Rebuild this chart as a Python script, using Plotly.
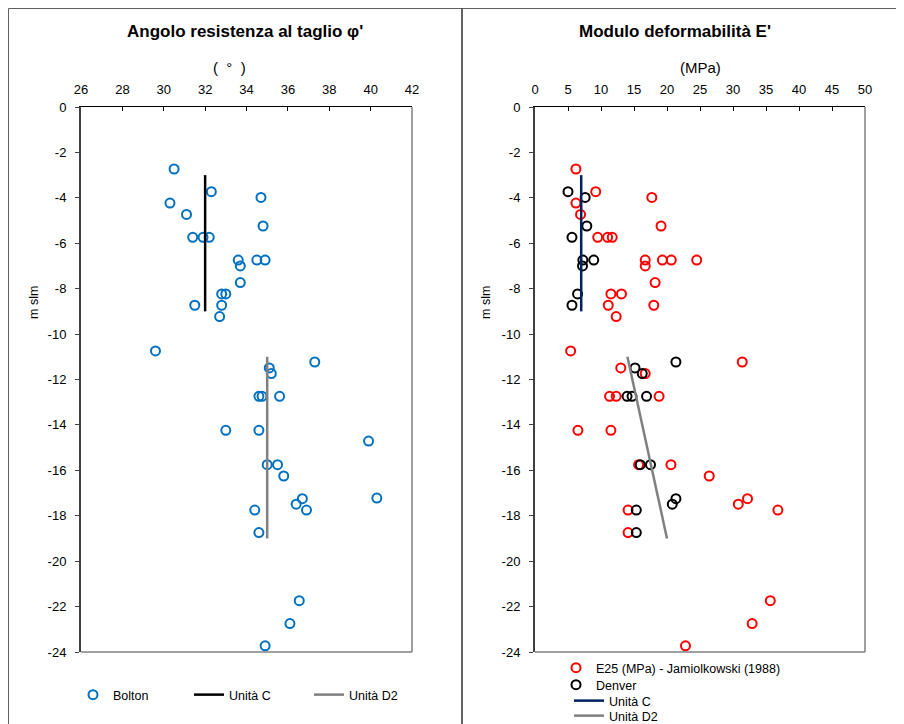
import plotly.graph_objects as go

# page body has an 8px margin; figure fills the rest of the 904x724 window
OFF = 8
W, H = 904 - OFF, 724 - OFF

# ---------------- data ----------------
# Left chart: friction angle (deg) vs elevation (m slm)
bolton_phi = [30.5, 32.3, 34.7, 30.3, 31.1, 34.8, 31.4, 31.9, 32.2, 33.6, 34.5, 34.9,
              33.7, 33.7, 32.8, 33.0, 31.5, 32.8, 32.7, 29.6, 37.3, 35.1, 35.2, 34.6,
              34.75, 35.6, 33.0, 34.6, 35.0, 35.5, 35.8, 36.7, 36.4, 36.9, 34.4, 34.6,
              36.55, 36.1, 34.9, 39.9, 40.3]
bolton_z = [-2.73, -3.73, -3.98, -4.23, -4.73, -5.24, -5.74, -5.74, -5.74, -6.74, -6.74, -6.74,
            -7.0, -7.73, -8.23, -8.23, -8.73, -8.73, -9.23, -10.74, -11.23, -11.49, -11.74, -12.74,
            -12.74, -12.74, -14.24, -14.24, -15.75, -15.75, -16.25, -17.25, -17.49, -17.75, -17.75, -18.74,
            -21.74, -22.75, -23.73, -14.71, -17.22]
unitaC_phi = [32, 32]
unitaC_phi_z = [-3, -9]
unitaD2_phi = [35, 35]
unitaD2_phi_z = [-11, -19]

# Right chart: deformation modulus (MPa) vs elevation
e25_val = [6.2, 9.2, 17.7, 6.2, 6.9, 19.1, 9.5, 11.0, 11.7, 16.7, 19.3, 20.65, 24.5, 16.7,
           18.2, 11.5, 13.1, 11.1, 18.0, 12.3, 5.4, 31.4, 13.0, 16.7, 11.3, 12.3, 18.8, 6.5,
           11.5, 15.7, 20.6, 26.4, 32.2, 30.8, 36.8, 14.1, 14.1, 35.65, 32.9, 22.8]
e25_z = [-2.73, -3.73, -3.98, -4.23, -4.73, -5.24, -5.74, -5.74, -5.74, -6.74, -6.74, -6.74, -6.74, -7.0,
         -7.73, -8.23, -8.23, -8.73, -8.73, -9.23, -10.74, -11.23, -11.49, -11.74, -12.74, -12.74, -12.74, -14.24,
         -14.24, -15.75, -15.75, -16.25, -17.25, -17.49, -17.75, -17.75, -18.74, -21.74, -22.75, -23.73]
denver_val = [5.0, 7.6, 7.85, 5.6, 7.25, 8.9, 7.2, 6.45, 5.6, 21.35, 15.15, 16.25, 13.95, 14.7,
              16.9, 15.95, 17.5, 21.35, 20.8, 15.35, 15.35]
denver_z = [-3.73, -3.98, -5.24, -5.74, -6.74, -6.74, -7.0, -8.23, -8.73, -11.23, -11.49, -11.74,
            -12.74, -12.74, -12.74, -15.75, -15.75, -17.25, -17.49, -17.75, -18.74]
unitaC_E = [7, 7]
unitaC_E_z = [-3, -9]
unitaD2_E = [14, 20]
unitaD2_E_z = [-11, -19]

# axis ticks
phi_ticks = [26, 28, 30, 32, 34, 36, 38, 40, 42]
e_ticks = [0, 5, 10, 15, 20, 25, 30, 35, 40, 45, 50]
z_ticks = [0, -2, -4, -6, -8, -10, -12, -14, -16, -18, -20, -22, -24]
z_ticktext = [str(v) for v in z_ticks]

titles = ["Angolo resistenza al taglio \u03c6'", "Modulo deformabilit\u00e0 E'"]
x_titles = ["(\u00a0\u00a0\u00b0\u00a0\u00a0)", "(MPa)"]
y_title = "m slm"

# ---------------- layout helpers (window pixels -> paper fractions) ----------------
def px_x(p):
    return (p - OFF) / W

def px_y(p):
    return 1 - (p - OFF) / H

FONT = "Liberation Sans, Arial, sans-serif"
LEG_FONT = dict(family=FONT, size=12.5, color="black")

fig = go.Figure()

mk = dict(symbol="circle-open", size=9, line=dict(width=2))

fig.add_trace(go.Scatter(x=bolton_phi, y=bolton_z, mode="markers", name="Bolton",
                         marker=dict(color="#0070C0", **mk), xaxis="x", yaxis="y", legend="legend"))
fig.add_trace(go.Scatter(x=unitaC_phi, y=unitaC_phi_z, mode="lines", name="Unit\u00e0 C",
                         line=dict(color="black", width=2.5), xaxis="x", yaxis="y", legend="legend2"))
fig.add_trace(go.Scatter(x=unitaD2_phi, y=unitaD2_phi_z, mode="lines", name="Unit\u00e0 D2",
                         line=dict(color="#808080", width=2.5), xaxis="x", yaxis="y", legend="legend3"))

fig.add_trace(go.Scatter(x=e25_val, y=e25_z, mode="markers", name="E25 (MPa) - Jamiolkowski (1988)",
                         marker=dict(color="#FF0000", **mk), xaxis="x2", yaxis="y2", legend="legend4"))
fig.add_trace(go.Scatter(x=denver_val, y=denver_z, mode="markers", name="Denver",
                         marker=dict(color="black", **mk), xaxis="x2", yaxis="y2", legend="legend5"))
fig.add_trace(go.Scatter(x=unitaC_E, y=unitaC_E_z, mode="lines", name="Unit\u00e0 C",
                         line=dict(color="#002060", width=2.5), xaxis="x2", yaxis="y2", legend="legend6"))
fig.add_trace(go.Scatter(x=unitaD2_E, y=unitaD2_E_z, mode="lines", name="Unit\u00e0 D2",
                         line=dict(color="#808080", width=2.5), xaxis="x2", yaxis="y2", legend="legend7"))

ydom = [px_y(652), px_y(107)]
xdom1 = [px_x(81), px_x(412)]
xdom2 = [px_x(535), px_x(865)]

tickfont = dict(family=FONT, size=13, color="black")

def xaxis_cfg(dom, rng, ticks, anchor):
    return dict(domain=dom, range=rng, side="top", anchor=anchor, tickvals=ticks,
                ticktext=[str(t) for t in ticks], showgrid=False, zeroline=False,
                showline=True, linecolor="black", linewidth=1, ticks="inside", ticklen=4,
                tickcolor="black", tickfont=tickfont, ticklabelstandoff=7, fixedrange=True)

def yaxis_cfg(anchor):
    return dict(domain=ydom, range=[-24, 0], anchor=anchor, tickvals=z_ticks,
                ticktext=z_ticktext, showgrid=False, zeroline=False, showline=True,
                linecolor="#404040", linewidth=2, ticks="outside", ticklen=4, tickcolor="#404040",
                tickfont=tickfont, ticklabelstandoff=6, fixedrange=True)

def leg(xpx, ypx):
    return dict(orientation="v", x=px_x(xpx), y=px_y(ypx), xanchor="left", yanchor="middle",
                font=LEG_FONT, itemwidth=30, bgcolor="rgba(0,0,0,0)", borderwidth=0)

fig.update_layout(
    width=W, height=H, autosize=False,
    margin=dict(l=0, r=0, t=0, b=0, autoexpand=False),
    paper_bgcolor="white", plot_bgcolor="white",
    font=dict(family=FONT, size=12, color="black"),
    xaxis=xaxis_cfg(xdom1, [26, 42], phi_ticks, "y"),
    yaxis=yaxis_cfg("x"),
    xaxis2=xaxis_cfg(xdom2, [0, 50], e_ticks, "y2"),
    yaxis2=yaxis_cfg("x2"),
    legend=leg(73, 695),
    legend2=leg(189, 695),
    legend3=leg(309, 695),
    legend4=leg(556, 668),
    legend5=leg(556, 685),
    legend6=leg(569, 701),
    legend7=leg(569, 716),
    showlegend=True,
)

# plot-area frame (right & bottom edges)
for xr, yr in (("x domain", "y domain"), ("x2 domain", "y2 domain")):
    fig.add_shape(type="line", xref=xr, yref=yr, x0=1, x1=1, y0=0, y1=1,
                  line=dict(color="#808080", width=1.5))
    fig.add_shape(type="line", xref=xr, yref=yr, x0=0, x1=1, y0=0, y1=0,
                  line=dict(color="#808080", width=1.5))

# chart-object borders
border = dict(color="#606060", width=1)
fig.add_shape(type="line", xref="paper", yref="paper", x0=px_x(8.5), x1=1, y0=px_y(8.5), y1=px_y(8.5), line=border)
fig.add_shape(type="line", xref="paper", yref="paper", x0=px_x(8.5), x1=px_x(8.5), y0=0, y1=px_y(8.5), line=border)
fig.add_shape(type="line", xref="paper", yref="paper", x0=px_x(462), x1=px_x(462), y0=0, y1=px_y(8.5),
              line=dict(color="#303030", width=1.5))

# titles
for txt, cx in zip(titles, (245, 675)):
    fig.add_annotation(text="<b>%s</b>" % txt, x=px_x(cx), y=px_y(32), xref="paper", yref="paper",
                       showarrow=False, font=dict(family=FONT, size=17, color="black"),
                       xanchor="center", yanchor="middle")
for txt, cx in zip(x_titles, (229, 700)):
    fig.add_annotation(text=txt, x=px_x(cx), y=px_y(68), xref="paper", yref="paper",
                       showarrow=False, font=dict(family=FONT, size=15, color="black"),
                       xanchor="center", yanchor="middle")
for cx in (34, 486):
    fig.add_annotation(text=y_title, x=px_x(cx), y=px_y(303), xref="paper", yref="paper",
                       showarrow=False, textangle=-90, font=dict(family=FONT, size=12.5, color="black"),
                       xanchor="center", yanchor="middle")

fig.write_html("out.html")
